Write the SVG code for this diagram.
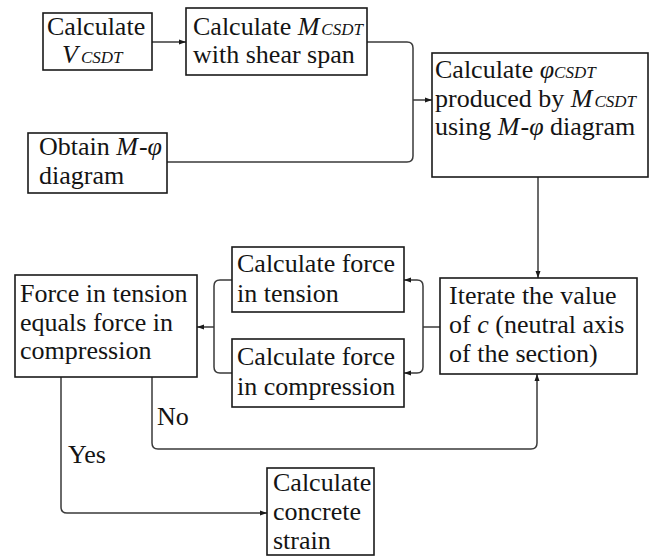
<svg xmlns="http://www.w3.org/2000/svg" width="649" height="557" viewBox="0 0 649 557">
<style>
.box{fill:#fff;stroke:#1a1a1a;stroke-width:1.6}
.t{font-family:"Liberation Serif","Times New Roman",serif;font-size:26px;fill:#141414}
.i{font-style:italic}
.s{font-style:italic;font-size:17px}
.c{fill:none;stroke:#3a3a3a;stroke-width:1.5}
.a{marker-end:url(#ah)}
</style>
<defs>
<marker id="ah" markerUnits="userSpaceOnUse" markerWidth="8" markerHeight="6" refX="7" refY="3" orient="auto">
<path d="M0,0.5 L7,3 L0,5.5 Z" fill="#1a1a1a"/>
</marker>
</defs>
<rect width="649" height="557" fill="#fff"/>
<g id="connectors">
<path class="c a" d="M152,42 H186"/>
<path class="c" d="M367,42 H407 Q413,42 413,48 V156 Q413,162 407,162 H167"/>
<path class="c a" d="M413,100 H432"/>
<path class="c a" d="M538,177 V278"/>
<path class="c" d="M440,327 H423"/>
<path class="c a" d="M423,327 V286 Q423,280 417,280 H404"/>
<path class="c a" d="M423,327 V367 Q423,373 417,373 H404"/>
<path class="c" d="M232,280 H220 Q214,280 214,286 V367 Q214,373 220,373 H232"/>
<path class="c a" d="M214,327 H197"/>
<path class="c a" d="M61,377 V507 Q61,513 67,513 H267"/>
<path class="c a" d="M152,377 V443 Q152,449 158,449 H531 Q537,449 537,443 V374"/>
<text class="t" x="157" y="425">No</text>
<text class="t" x="68" y="463">Yes</text>
</g>
<g id="calcV">
<rect class="box" x="43" y="13" width="109" height="57"/>
<text class="t" x="47" y="35">Calculate</text>
<text class="t" x="62" y="63"><tspan class="i">V</tspan><tspan class="s" dx="3">CSDT</tspan></text>
</g>
<g id="calcM">
<rect class="box" x="186" y="8" width="181" height="67"/>
<text class="t" x="193" y="35">Calculate <tspan class="i">M</tspan><tspan class="s" dx="2">CSDT</tspan></text>
<text class="t" x="193" y="63">with shear span</text>
</g>
<g id="obtain">
<rect class="box" x="28" y="133" width="139" height="60"/>
<text class="t" x="39" y="155">Obtain <tspan class="i">M</tspan><tspan dx="1">-</tspan><tspan class="i">φ</tspan></text>
<text class="t" x="39" y="184">diagram</text>
</g>
<g id="calcPhi">
<rect class="box" x="432" y="53" width="216" height="124"/>
<text class="t" x="435" y="78">Calculate <tspan class="i">φ</tspan><tspan class="s">CSDT</tspan></text>
<text class="t" x="435" y="107">produced by <tspan class="i">M</tspan><tspan class="s" dx="2">CSDT</tspan></text>
<text class="t" x="435" y="135">using <tspan class="i">M</tspan><tspan dx="1">-</tspan><tspan class="i">φ</tspan> diagram</text>
</g>
<g id="iterate">
<rect class="box" x="440" y="278" width="197" height="96"/>
<text class="t" x="449" y="304">Iterate the value</text>
<text class="t" x="449" y="333">of <tspan class="i">c</tspan> (neutral axis</text>
<text class="t" x="449" y="362">of the section)</text>
</g>
<g id="tension">
<rect class="box" x="232" y="247" width="172" height="65"/>
<text class="t" x="237" y="272">Calculate force</text>
<text class="t" x="237" y="302">in tension</text>
</g>
<g id="compression">
<rect class="box" x="232" y="339" width="172" height="68"/>
<text class="t" x="237" y="365">Calculate force</text>
<text class="t" x="237" y="395">in compression</text>
</g>
<g id="equals">
<rect class="box" x="15" y="275" width="182" height="102"/>
<text class="t" x="20" y="302">Force in tension</text>
<text class="t" x="20" y="331">equals force in</text>
<text class="t" x="20" y="359">compression</text>
</g>
<g id="strain">
<rect class="box" x="267" y="468" width="107" height="87"/>
<text class="t" x="273" y="491">Calculate</text>
<text class="t" x="273" y="520">concrete</text>
<text class="t" x="273" y="549">strain</text>
</g>
</svg>
